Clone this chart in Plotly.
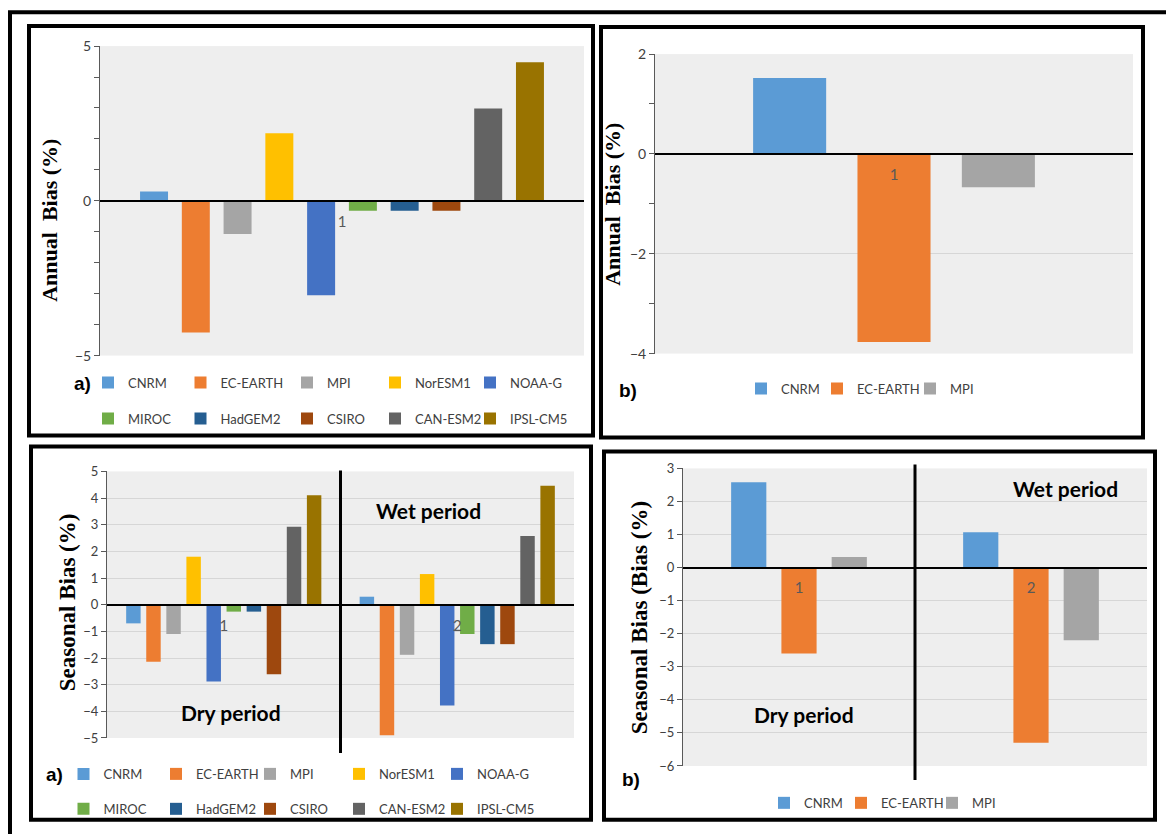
import plotly.graph_objects as go

W, H = 1166, 834

# ---------------- data ----------------
models10 = ["CNRM", "EC-EARTH", "MPI", "NorESM1", "NOAA-G",
            "MIROC", "HadGEM2", "CSIRO", "CAN-ESM2", "IPSL-CM5"]
colors10 = ["#5B9BD5", "#ED7D31", "#A5A5A5", "#FFC000", "#4472C4",
            "#70AD47", "#255E91", "#9E480E", "#636363", "#997300"]
annual10 = [0.30, -4.25, -1.07, 2.18, -3.05, -0.32, -0.32, -0.32, 2.98, 4.48]

models3 = ["CNRM", "EC-EARTH", "MPI"]
colors3 = ["#5B9BD5", "#ED7D31", "#A5A5A5"]
annual3 = [1.52, -3.77, -0.67]

seasonal10_dry = [-0.70, -2.14, -1.10, 1.80, -2.88, -0.26, -0.26, -2.61, 2.92, 4.11]
seasonal10_wet = [0.30, -4.90, -1.88, 1.15, -3.78, -1.10, -1.48, -1.48, 2.58, 4.46]

seasonal3_dry = [2.58, -2.60, 0.32]
seasonal3_wet = [1.07, -5.30, -2.20]

annual_cats = ["1"]
seasonal_cats = ["1", "2"]

# ---------------- helpers ----------------
# the page is photographed with a small vertical inset; compensate for it
SY = 834 / 850
OFF = 8


def px(x):
    return x / W


def py(y):
    return 1 - (y / SY - OFF) / H


def bar_geom(n, i, bargap, groupgap):
    g = 1 - bargap
    s = g / n
    w = s * (1 - groupgap)
    return -g / 2 + i * s + (s - w) / 2, w


fig = go.Figure()

panels = {
    1: dict(xd=(100, 584), yd=(45, 355), yr=(-5, 5), bg=0.137, gg=0.33),
    2: dict(xd=(655, 1133), yd=(53, 353), yr=(-4, 2), bg=0.345, gg=0.30),
    3: dict(xd=(107, 574), yd=(471, 738), yr=(-5, 5), bg=0.14, gg=0.28),
    4: dict(xd=(683, 1147), yd=(468, 766), yr=(-6, 3), bg=0.35, gg=0.30),
}

# legend item placement (icon centre x, row y) per panel
leg_cols = {1: [113, 205.5, 312, 400, 495], 2: [766, 842, 935],
            3: [88.5, 181, 275, 364, 462], 4: [789, 866, 957]}
leg_rows = {1: [382, 418], 2: [388], 3: [774, 809], 4: [803]}

legend_specs = []   # (icon_x, row_y)


def next_legend(panel, i, ncols):
    col = i % ncols
    row = i // ncols
    legend_specs.append((leg_cols[panel][col], leg_rows[panel][row]))
    n = len(legend_specs)
    return "legend" if n == 1 else f"legend{n}"


# Panel 1: annual, 10 models
for i, (m, c, v) in enumerate(zip(models10, colors10, annual10)):
    off, wd = bar_geom(10, i, panels[1]["bg"], panels[1]["gg"])
    fig.add_trace(go.Bar(x=annual_cats, y=[v], name=m, marker_color=c,
                         marker_line_width=0, offset=off, width=wd,
                         xaxis="x", yaxis="y", legend=next_legend(1, i, 5)))

# Panel 2: annual, 3 models
for i, (m, c, v) in enumerate(zip(models3, colors3, annual3)):
    off, wd = bar_geom(3, i, panels[2]["bg"], panels[2]["gg"])
    fig.add_trace(go.Bar(x=annual_cats, y=[v], name=m, marker_color=c,
                         marker_line_width=0, offset=off, width=wd,
                         xaxis="x2", yaxis="y2", legend=next_legend(2, i, 3)))

# Panel 3: seasonal, 10 models
for i, (m, c) in enumerate(zip(models10, colors10)):
    off, wd = bar_geom(10, i, panels[3]["bg"], panels[3]["gg"])
    fig.add_trace(go.Bar(x=seasonal_cats, y=[seasonal10_dry[i], seasonal10_wet[i]],
                         name=m, marker_color=c, marker_line_width=0,
                         offset=off, width=wd, xaxis="x3", yaxis="y3",
                         legend=next_legend(3, i, 5)))

# Panel 4: seasonal, 3 models
for i, (m, c) in enumerate(zip(models3, colors3)):
    off, wd = bar_geom(3, i, panels[4]["bg"], panels[4]["gg"])
    fig.add_trace(go.Bar(x=seasonal_cats, y=[seasonal3_dry[i], seasonal3_wet[i]],
                         name=m, marker_color=c, marker_line_width=0,
                         offset=off, width=wd, xaxis="x4", yaxis="y4",
                         legend=next_legend(4, i, 3)))

axis_col = "#595959"

layout_axes = {}
for k, p in panels.items():
    sx = "" if k == 1 else str(k)
    y0p, y1p = p["yd"]
    ymin, ymax = p["yr"]
    dom_lo, dom_hi = py(y1p), py(y0p)
    zero_pos = dom_lo + (0 - ymin) / (ymax - ymin) * (dom_hi - dom_lo)
    ncat = 1 if k in (1, 2) else 2
    layout_axes["xaxis" + sx] = dict(
        domain=[px(p["xd"][0]), px(p["xd"][1])], type="category",
        range=[-0.5, ncat - 0.5], anchor="free", position=zero_pos,
        showline=True, linecolor="black", linewidth=1.6, ticks="",
        showgrid=False, zeroline=False, layer="above traces",
        tickfont=dict(family="Lato", size=15, color="#595959"),
        ticklabelstandoff=7, fixedrange=True,
    )
    if k == 1:
        dt, mdt, gc, tf = 5, 1, "#b0b0b0", 14
    elif k == 2:
        dt, mdt, gc, tf = 2, 1, "#d6d6d6", 14
    else:
        dt, mdt, gc, tf = 1, None, "#d6d6d6", 13
    yax = dict(
        domain=[dom_lo, dom_hi], range=[ymin, ymax], anchor="x" + sx,
        dtick=dt, tick0=0, showgrid=True, gridcolor=gc, gridwidth=1,
        zeroline=False, showline=True, linecolor=axis_col, linewidth=1,
        ticks="outside", ticklen=5, tickcolor=axis_col,
        tickfont=dict(family="Lato", size=tf, color="#404040"),
        fixedrange=True,
    )
    if mdt:
        yax["minor"] = dict(dtick=mdt, tick0=0, ticks="outside", ticklen=5,
                            tickcolor=axis_col, showgrid=False)
    layout_axes["yaxis" + sx] = yax

legfont = dict(family="Lato", size=13, color="#404040")
legend_layout = {}
for n, (ix, ry) in enumerate(legend_specs, start=1):
    key = "legend" if n == 1 else f"legend{n}"
    legend_layout[key] = dict(
        orientation="h", x=px(ix - 5 - 20), y=py(ry), xanchor="left",
        yanchor="middle", bgcolor="rgba(0,0,0,0)", font=legfont,
        itemwidth=30, borderwidth=0)

fig.update_layout(
    width=W, height=H, autosize=False,
    margin=dict(l=0, r=0, t=0, b=0),
    paper_bgcolor="white", plot_bgcolor="#eeeeee",
    barmode="overlay", showlegend=True,
    **legend_layout,
    **layout_axes,
)

# ---------------- frames ----------------
frame_boxes = [
    (10, 11, 1300, 1000),   # outer frame (only top and left visible)
    (29, 25, 593, 435),     # panel a) annual
    (601, 26, 1143, 437),   # panel b) annual
    (31, 446, 591, 820),    # panel a) seasonal
    (604, 451, 1155, 820),  # panel b) seasonal
]
for x0, y0, x1, y1 in frame_boxes:
    fig.add_shape(type="rect", xref="paper", yref="paper",
                  x0=px(x0), x1=px(x1), y0=py(y0), y1=py(y1),
                  line=dict(color="black", width=4), layer="above")

# dry / wet dividers (between the two categories)
fig.add_shape(type="line", xref="x3", yref="paper", x0=0.5, x1=0.5,
              y0=py(470), y1=py(753), line=dict(color="black", width=3))
fig.add_shape(type="line", xref="x4", yref="paper", x0=0.5, x1=0.5,
              y0=py(464), y1=py(780), line=dict(color="black", width=3))

# ---------------- texts ----------------
def note(text, x, y, size, family, angle=0, bold=True, color="black"):
    fig.add_annotation(text=f"<b>{text}</b>" if bold else text,
                       xref="paper", yref="paper", x=px(x), y=py(y),
                       xanchor="center", yanchor="middle", showarrow=False,
                       textangle=angle,
                       font=dict(family=family, size=size, color=color))


serif = "Liberation Serif"
note("Annual  Bias (%)", 50, 220, 22, serif, -90)
note("Annual  Bias (%)", 613, 204, 22, serif, -90)
note("Seasonal Bias (%)", 67, 602, 23, serif, -90)
note("Seasonal Bias (Bias (%)", 639, 617, 23, serif, -90)

note("Wet period", 429, 510, 21, "Lato")
note("Dry period", 231, 712, 21, "Lato")
note("Wet period", 1065, 488, 21, "Lato")
note("Dry period", 804, 714, 21, "Lato")

note("a)", 82, 383, 19, "Liberation Sans")
note("b)", 628, 390, 19, "Liberation Sans")
note("a)", 54, 775, 19, "Liberation Sans")
note("b)", 631, 780, 19, "Liberation Sans")

fig.write_html(
    "out.html", config={"displayModeBar": False},
    post_script="document.body.style.margin='0';")
